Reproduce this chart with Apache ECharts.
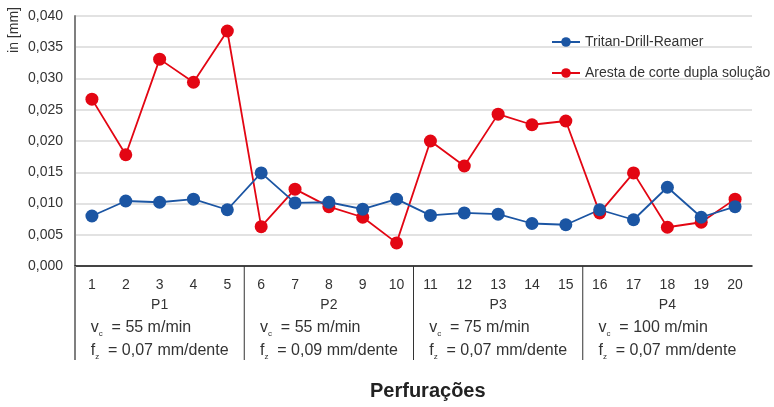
<!DOCTYPE html>
<html>
<head>
<meta charset="utf-8">
<script src="https://cdn.jsdelivr.net/npm/echarts@6/dist/echarts.min.js"></script>
<style>
  html, body { margin: 0; padding: 0; background: #fff; }
  #main { width: 774px; height: 407px; }
</style>
</head>
<body>
<div id="main"></div>
<script>
// furos 1..20, agrupados em P1..P4
var categories = ['1','2','3','4','5','6','7','8','9','10','11','12','13','14','15','16','17','18','19','20'];
var groups = ['P1', 'P2', 'P3', 'P4'];
var vcValues = ['55', '55', '75', '100'];
var fzValues = ['0,07', '0,09', '0,07', '0,07'];

var tritan = [0.0080, 0.0104, 0.0102, 0.0107, 0.0090, 0.0149, 0.0101, 0.0102, 0.0091, 0.0107,
              0.0081, 0.0085, 0.0083, 0.0068, 0.0066, 0.0090, 0.0074, 0.0126, 0.0078, 0.0095];
var aresta = [0.0267, 0.0178, 0.0331, 0.0294, 0.0376, 0.0063, 0.0123, 0.0095, 0.0078, 0.0037,
              0.0200, 0.0160, 0.0243, 0.0226, 0.0232, 0.0085, 0.0149, 0.0062, 0.0070, 0.0107];

var FONT = '"Liberation Sans", Arial, sans-serif';
var BLUE = '#1b55a3';
var RED = '#e30613';

var chart = echarts.init(document.getElementById('main'));

function groupLabel(val, idx) {
    return '{p|' + val + '}\n' +
        '{t|v}{s|c}{t|  = ' + vcValues[idx] + ' m/min}\n' +
        '{t|f}{s|z}{t|  = ' + fzValues[idx] + ' mm/dente}';
}

var option = {
    animation: false,
    textStyle: { fontFamily: FONT },
    title: {
        text: 'Perfurações',
        left: 365,
        top: 376,
        textStyle: { fontFamily: FONT, fontSize: 20, fontWeight: 'bold', color: '#222' }
    },
    legend: {
        orient: 'vertical',
        left: 546,
        top: 30,
        itemWidth: 28,
        itemHeight: 12,
        itemGap: 17,
        data: ['Tritan-Drill-Reamer', 'Aresta de corte dupla solução'],
        textStyle: { fontFamily: FONT, fontSize: 14, color: '#333' }
    },
    grid: { left: 75, right: 22, top: 16, bottom: 141, containLabel: false },
    xAxis: [
        {
            type: 'category',
            data: categories,
            boundaryGap: true,
            axisLine: { lineStyle: { color: '#111', width: 1.5 } },
            axisTick: { show: false },
            axisLabel: { interval: 0, margin: 12, fontSize: 14, color: '#333', fontFamily: FONT }
        },
        {
            type: 'category',
            data: groups,
            position: 'bottom',
            boundaryGap: true,
            axisLine: { show: false },
            axisTick: { show: false },
            axisLabel: {
                interval: 0,
                hideOverlap: false,
                margin: 28,
                formatter: groupLabel,
                rich: {
                    p: { fontSize: 14, color: '#333', lineHeight: 22, align: 'center', fontFamily: FONT },
                    t: { fontSize: 16, color: '#333', lineHeight: 23, align: 'left', fontFamily: FONT },
                    s: { fontSize: 8, color: '#333', lineHeight: 8, verticalAlign: 'bottom', align: 'left', padding: [0, 0, 1, 0], fontFamily: FONT }
                }
            }
        }
    ],
    yAxis: {
        type: 'value',
        min: 0,
        max: 0.04,
        interval: 0.005,
        axisLine: { show: true, lineStyle: { color: '#7f7f7f', width: 2 } },
        axisTick: { show: false },
        splitLine: { lineStyle: { color: '#d9d9d9', width: 1.5 } },
        axisLabel: {
            margin: 12,
            fontSize: 14,
            color: '#333',
            fontFamily: FONT,
            formatter: function (v) { return v.toFixed(3).replace('.', ','); }
        }
    },
    series: [
        {
            name: 'Aresta de corte dupla solução',
            type: 'line',
            data: aresta,
            symbol: 'circle',
            symbolSize: 13,
            itemStyle: { color: RED },
            lineStyle: { color: RED, width: 1.8 }
        },
        {
            name: 'Tritan-Drill-Reamer',
            type: 'line',
            data: tritan,
            symbol: 'circle',
            symbolSize: 13,
            itemStyle: { color: BLUE },
            lineStyle: { color: BLUE, width: 1.8 }
        }
    ]
};

chart.setOption(option);

// linhas divisórias da tabela sob o eixo x
var band = chart.convertToPixel({ xAxisIndex: 0 }, categories[1]) - chart.convertToPixel({ xAxisIndex: 0 }, categories[0]);
var yBase = chart.convertToPixel({ yAxisIndex: 0 }, 0);
var dividers = [];
for (var g = 0; g < groups.length; g++) {
    var x = chart.convertToPixel({ xAxisIndex: 0 }, categories[g * 5]) - band / 2;
    dividers.push({
        type: 'line',
        shape: { x1: x, y1: yBase, x2: x, y2: yBase + 94 },
        style: g === 0 ? { stroke: '#7f7f7f', lineWidth: 2 } : { stroke: '#333', lineWidth: 1 },
        z: 10
    });
}
dividers.push({
    type: 'text',
    x: 14,
    y: 30,
    rotation: Math.PI / 2,
    style: { text: 'in [mm]', fontSize: 14, fontFamily: FONT, fill: '#333', textAlign: 'center', textVerticalAlign: 'middle' }
});
chart.setOption({ graphic: dividers });
</script>
</body>
</html>
